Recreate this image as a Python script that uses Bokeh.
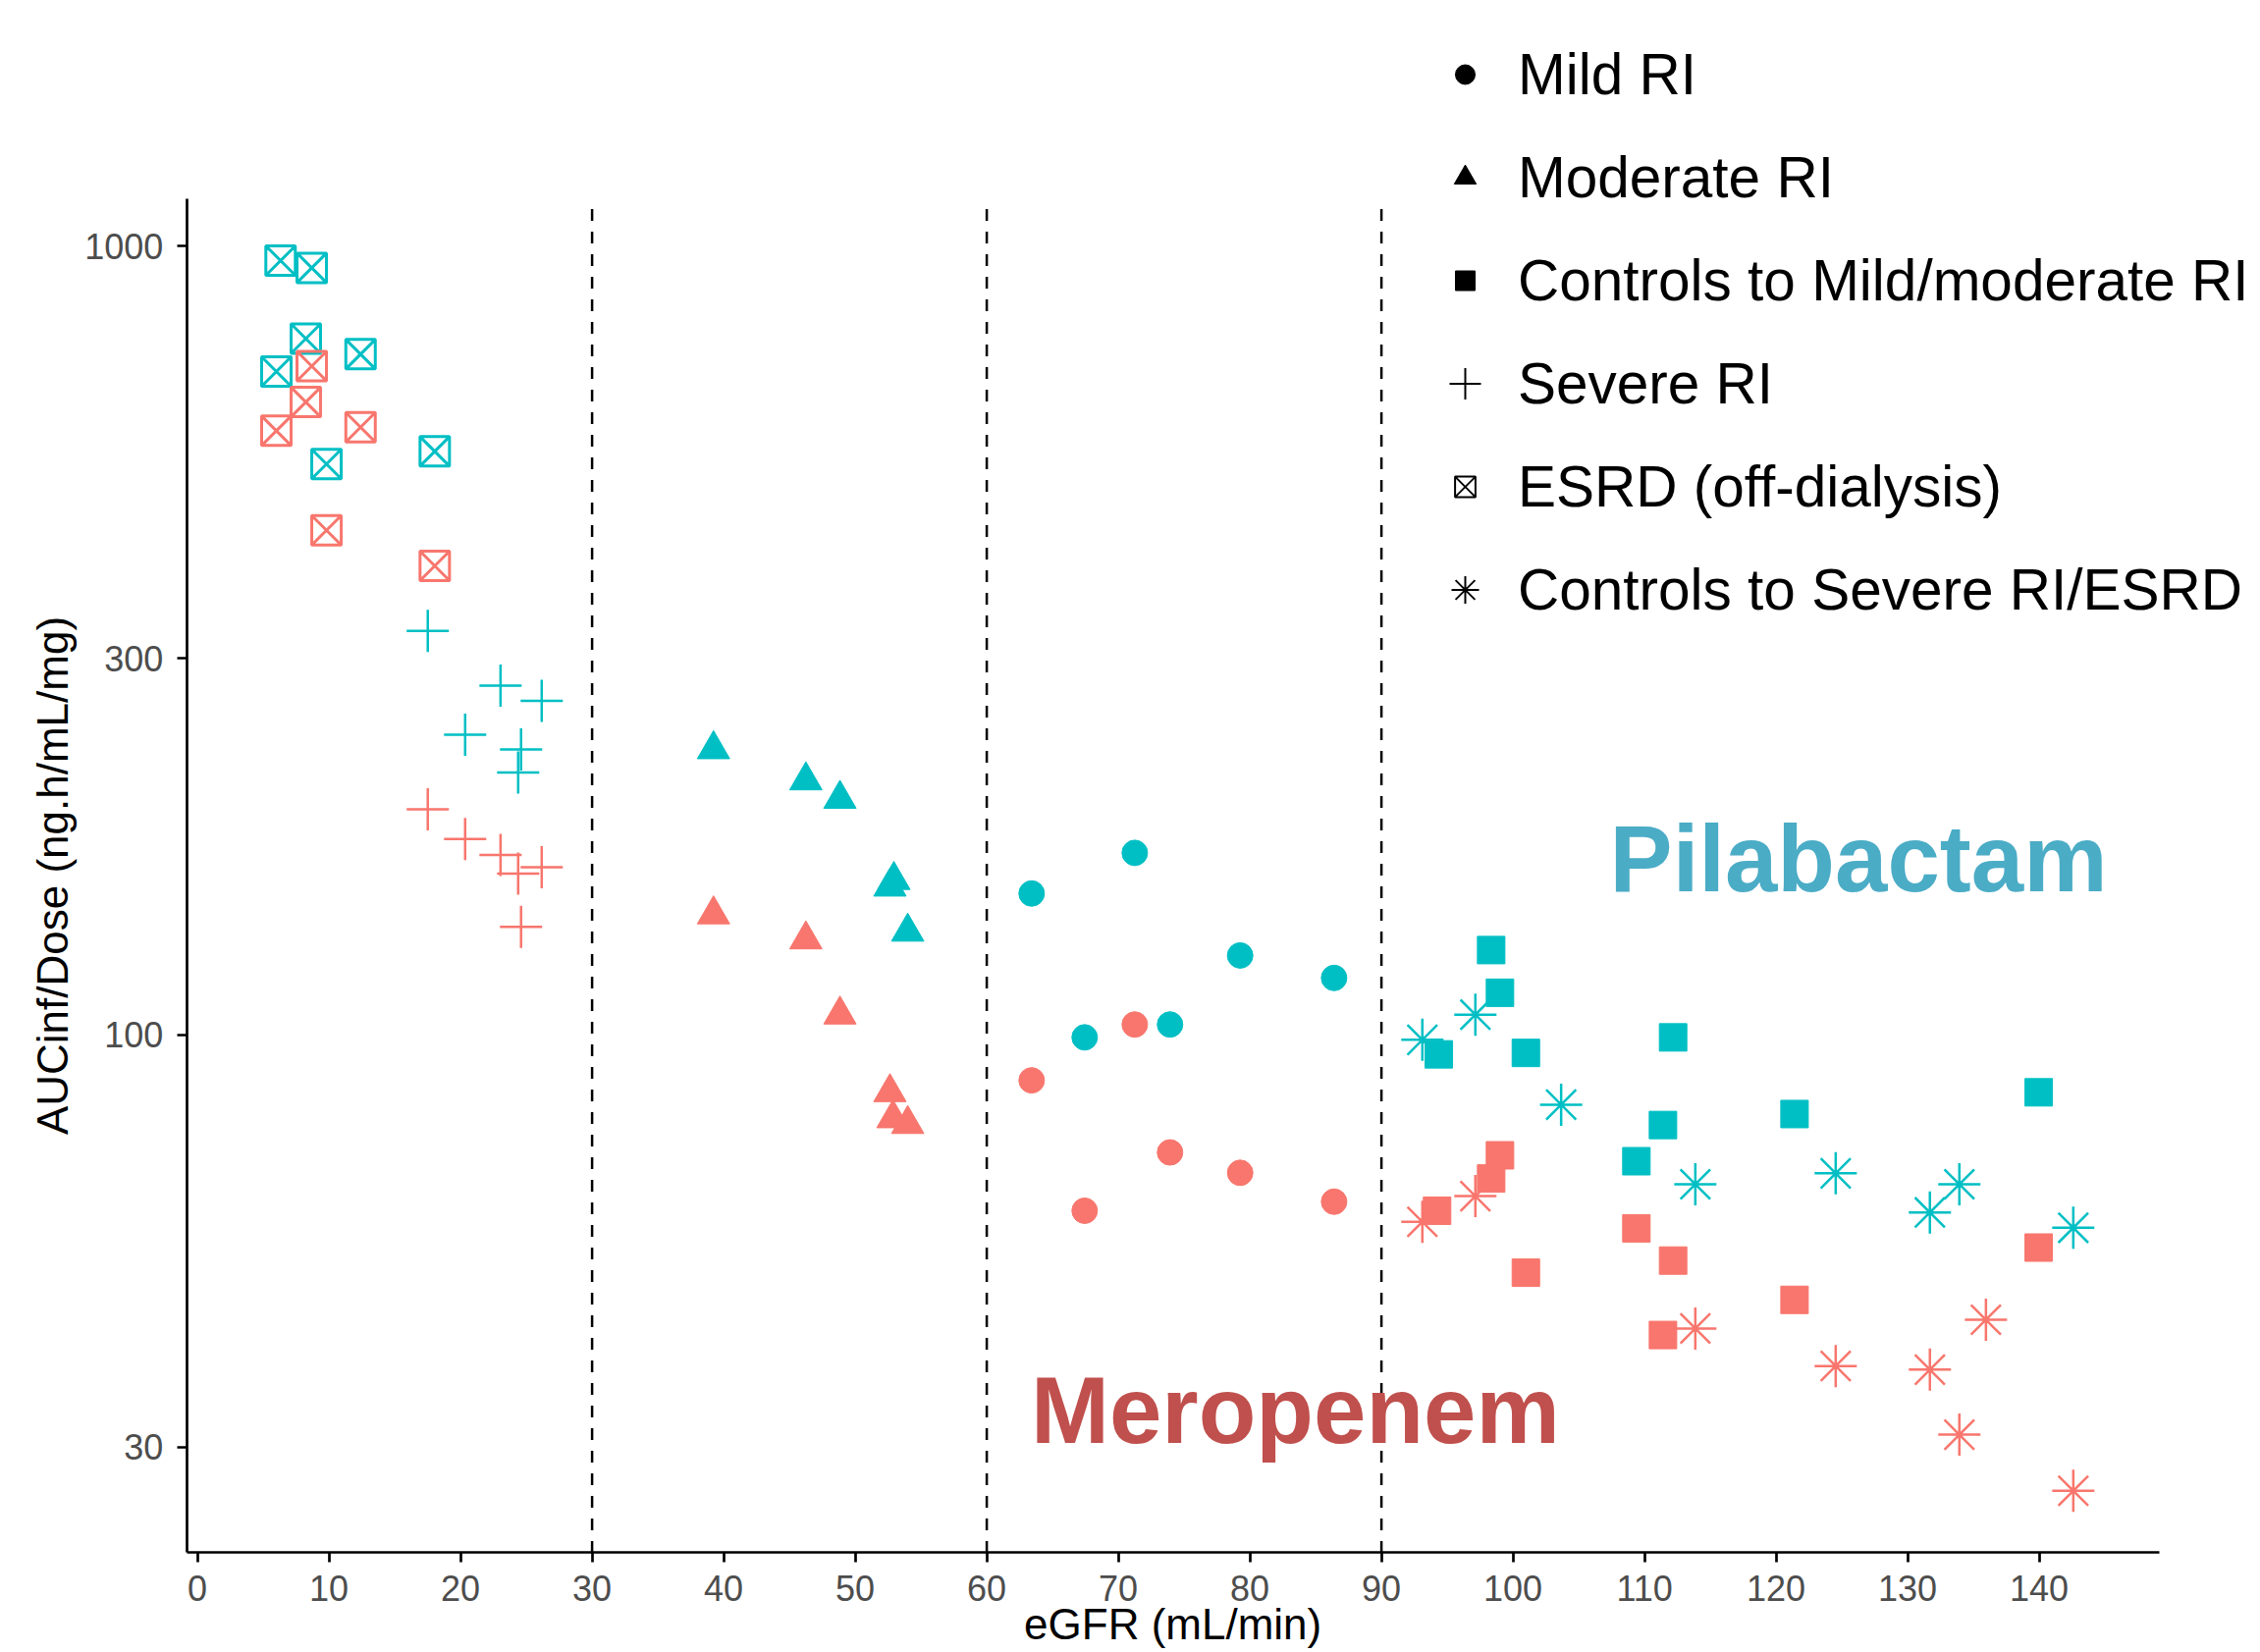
from bokeh.plotting import figure
from bokeh.models import (Range1d, FixedTicker, PrintfTickFormatter, Label,
                          Legend, LegendItem, ColumnDataSource)
from bokeh.embed import file_html
from bokeh.resources import INLINE

# ---------------- data ----------------
PIL_COLOR = "#00BFC4"   # Pilabactam
MER_COLOR = "#F8766D"   # Meropenem

esrd_x_pil = [6.32, 8.69, 8.24, 12.40, 6.00, 9.81, 18.04]
esrd_y_pil = [958, 938, 763, 729, 693, 529, 549]
esrd_x_mer = [8.69, 8.24, 12.40, 6.00, 9.81, 18.04]
esrd_y_mer = [704, 634, 589, 583, 436, 393]

severe_x_pil = [17.51, 23.04, 26.17, 20.35, 24.60, 24.38]
severe_y_pil = [325, 277, 265, 240, 230, 215]
severe_x_mer = [17.51, 20.35, 23.04, 24.38, 26.17, 24.60]
severe_y_mer = [193, 177, 169, 160, 163, 137]

mod_x_pil = [39.23, 46.25, 48.84, 52.64, 52.94, 53.99]
mod_y_pil = [230, 210, 199, 154, 157, 135]
mod_x_mer = [39.23, 46.25, 48.84, 52.64, 52.87, 53.99]
mod_y_mer = [142, 132, 106, 84.5, 78.3, 77.0]

mild_x_pil = [71.25, 63.41, 79.26, 86.40, 73.93, 67.44]
mild_y_pil = [170, 151, 126, 118, 103, 99.2]
mild_x_mer = [71.25, 63.41, 73.93, 79.26, 86.40, 67.44]
mild_y_mer = [103, 87.5, 70.9, 66.8, 61.4, 59.8]

ctrl1_x_pil = [98.34, 99.01, 94.36, 100.98, 112.17, 111.40, 109.38, 121.40, 139.96]
ctrl1_y_pil = [128, 113, 94.4, 94.8, 99.2, 76.8, 69.1, 79.3, 84.5]
ctrl1_x_mer = [99.01, 98.34, 94.23, 100.98, 109.38, 112.17, 111.40, 121.40, 139.96]
ctrl1_y_mer = [70.3, 65.7, 59.8, 49.9, 56.8, 51.7, 41.6, 46.1, 53.7]

ctrl2_x_pil = [93.11, 97.14, 103.66, 113.86, 124.53, 131.69, 133.93, 142.59]
ctrl2_y_pil = [98.5, 106, 81.5, 64.6, 66.7, 59.5, 64.6, 56.9]
ctrl2_x_mer = [93.11, 97.14, 113.86, 124.53, 131.69, 133.93, 135.95, 142.59]
ctrl2_y_mer = [57.9, 62.4, 42.4, 38.0, 37.6, 31.1, 43.5, 26.4]

legend_labels = ["Mild RI", "Moderate RI", "Controls to Mild/moderate RI",
                 "Severe RI", "ESRD (off-dialysis)", "Controls to Severe RI/ESRD"]
x_ticks = [0, 10, 20, 30, 40, 50, 60, 70, 80, 90, 100, 110, 120, 130, 140]
y_ticks = [30, 100, 300, 1000]
cutoffs = [30, 60, 90]

# panel (axis) limits and the full canvas extent in data units
X_LO, X_HI = -0.81, 149.1
Y_LO, Y_HI = 22.03, 1146.5
CANVAS_X = (-14.97, 156.67)
CANVAS_Y = (16.607, 2047.6)
W, H = 2300, 1680

FONT = "Liberation Sans"

# ---------------- figure ----------------
p = figure(width=W, height=H,
           x_range=Range1d(*CANVAS_X), y_range=Range1d(*CANVAS_Y),
           y_axis_type="log", output_backend="svg", toolbar_location=None,
           min_border=0, min_border_left=0, min_border_right=0,
           min_border_top=0, min_border_bottom=0)
p.xgrid.visible = False
p.ygrid.visible = False
p.outline_line_color = None
p.background_fill_color = "white"
p.border_fill_color = "white"

p.xaxis.ticker = FixedTicker(ticks=x_ticks)
p.yaxis.ticker = FixedTicker(ticks=y_ticks)
p.yaxis.formatter = PrintfTickFormatter(format="%d")
p.xaxis.bounds = (X_LO, X_HI)
p.yaxis.bounds = (Y_LO, Y_HI)
p.xaxis.fixed_location = Y_LO
p.yaxis.fixed_location = X_LO
for ax in (p.xaxis, p.yaxis):
    ax.axis_line_color = "black"
    ax.axis_line_width = 2.7
    ax.major_tick_line_color = "black"
    ax.major_tick_line_width = 2.7
    ax.major_tick_out = 10
    ax.major_tick_in = 0
    ax.minor_tick_line_color = None
    ax.major_label_text_font = FONT
    ax.major_label_text_font_size = "36px"
    ax.major_label_text_color = "#4D4D4D"
p.xaxis.major_label_standoff = 13
p.yaxis.major_label_standoff = 14

p.yaxis.axis_label = "AUCinf/Dose (ng.h/mL/mg)"
p.yaxis.axis_label_text_font = FONT
p.yaxis.axis_label_text_font_size = "44px"
p.yaxis.axis_label_text_font_style = "normal"
p.yaxis.axis_label_text_color = "black"
p.yaxis.axis_label_standoff = 5

# dashed eGFR cut-offs spanning the panel height
p.segment(x0=cutoffs, y0=[Y_LO] * len(cutoffs), x1=cutoffs, y1=[Y_HI] * len(cutoffs),
          line_color="black", line_width=2.5, line_dash="12 11")

# ---------------- points ----------------
def filled(xs, ys, marker, size, color):
    p.scatter(xs, ys, marker=marker, size=size, fill_color=color,
              line_color=color, line_width=1)

def stroked(xs, ys, marker, size, color, lw):
    p.scatter(xs, ys, marker=marker, size=size, fill_color=None,
              line_color=color, line_width=lw)

for col, (ex, ey, sx, sy, mx, my, lx, ly, c1x, c1y, c2x, c2y) in [
    (PIL_COLOR, (esrd_x_pil, esrd_y_pil, severe_x_pil, severe_y_pil, mod_x_pil, mod_y_pil,
                 mild_x_pil, mild_y_pil, ctrl1_x_pil, ctrl1_y_pil, ctrl2_x_pil, ctrl2_y_pil)),
    (MER_COLOR, (esrd_x_mer, esrd_y_mer, severe_x_mer, severe_y_mer, mod_x_mer, mod_y_mer,
                 mild_x_mer, mild_y_mer, ctrl1_x_mer, ctrl1_y_mer, ctrl2_x_mer, ctrl2_y_mer)),
]:
    stroked(ex, ey, "square_x", 30, col, 3)
    stroked(sx, sy, "cross", 43, col, 2.5)
    filled(mx, my, "triangle", 33, col)
    filled(lx, ly, "circle", 26, col)
    filled(c1x, c1y, "square", 28, col)
    stroked(c2x, c2y, "asterisk", 43, col, 2.5)

# ---------------- legend (black keys, shape only) ----------------
nan = float("nan")
key_src = ColumnDataSource(data=dict(x=[nan], y=[nan]))
# marker, filled?, key glyph box width in px (key size = 0.4 * width)
key_specs = [("circle", True, 50), ("triangle", True, 56), ("square", True, 50),
             ("cross", False, 80), ("square_x", False, 52), ("asterisk", False, 70)]
KEY_CX = 1492       # key centre (px from left)
TEXT_X = 1546       # label start (px from left)
TOP = 23            # top of the first legend row (px from top)
ROW = 105           # row height (px)
for i, (lab, (mk, fill, gw)) in enumerate(zip(legend_labels, key_specs)):
    if fill:
        r = p.scatter("x", "y", source=key_src, marker=mk, fill_color="black",
                      line_color="black", line_width=1)
    else:
        r = p.scatter("x", "y", source=key_src, marker=mk, fill_color=None,
                      line_color="black", line_width=2)
    left = KEY_CX - gw // 2
    leg = Legend(items=[LegendItem(label=lab, renderers=[r])],
                 location=(left, H - TOP - ROW * (i + 1)), orientation="vertical",
                 padding=0, spacing=0, margin=0,
                 glyph_width=int(gw), glyph_height=ROW, label_height=ROW,
                 label_standoff=int(TEXT_X - left - gw), label_text_font=FONT,
                 label_text_font_size="58.5px", label_text_color="black",
                 border_line_color=None, background_fill_alpha=0)
    p.add_layout(leg)

# ---------------- annotations ----------------
p.add_layout(Label(x=107.35, y=167.5, text="Pilabactam", text_font=FONT,
                   text_font_style="bold", text_font_size="96px",
                   text_color="#4BACC6", text_align="left",
                   text_baseline="middle"))
p.add_layout(Label(x=63.35, y=33.41, text="Meropenem", text_font=FONT,
                   text_font_style="bold", text_font_size="96px",
                   text_color="#C0504D", text_align="left",
                   text_baseline="middle"))

# x-axis title under the tick labels
p.add_layout(Label(x=(X_LO + X_HI) / 2, y=17.9, text="eGFR (mL/min)",
                   text_font=FONT, text_font_size="44px",
                   text_color="black", text_align="center",
                   text_baseline="middle"))

open("out.html", "w").write(file_html(p, INLINE))
